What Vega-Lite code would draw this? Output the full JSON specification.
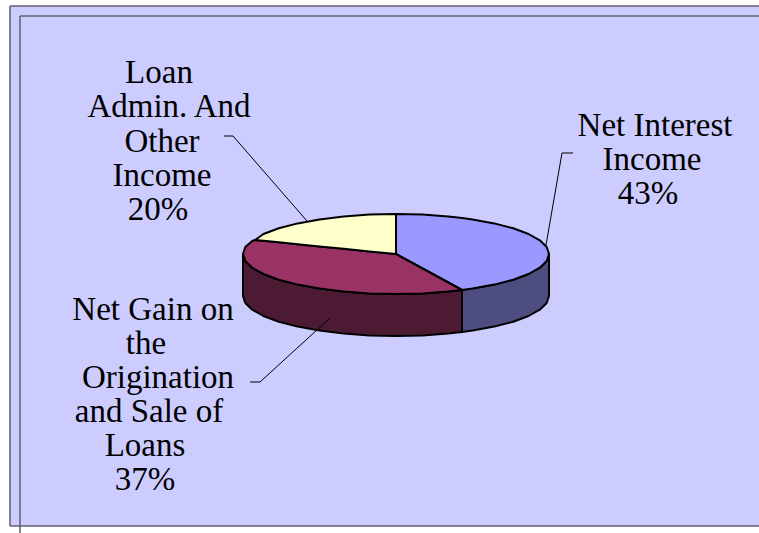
{
  "$schema": "https://vega.github.io/schema/vega-lite/v6.json",
  "width": 759,
  "height": 533,
  "autosize": {"type": "none"},
  "padding": 0,
  "background": "#ffffff",
  "view": {"stroke": null},
  "config": {"style": {"cell": {"stroke": null}}},
  "datasets": {
    "panel": [{"x": 10, "x2": 759, "y": 6, "y2": 526}],
    "frame": [
      {"x": 10, "x2": 759, "y": 6, "y2": 6},
      {"x": 10, "x2": 10, "y": 6, "y2": 526},
      {"x": 10, "x2": 759, "y": 526, "y2": 526},
      {"x": 20, "x2": 759, "y": 16, "y2": 16},
      {"x": 20, "x2": 20, "y": 16, "y2": 533}
    ],
    "walls": [
      {"part": "Net Interest Income wall", "x": 462, "y": 290, "y2": 332},
      {"part": "Net Interest Income wall", "x": 472.5, "y": 288.6, "y2": 330.6},
      {"part": "Net Interest Income wall", "x": 494.3, "y": 284.6, "y2": 326.6},
      {"part": "Net Interest Income wall", "x": 513.2, "y": 279.7, "y2": 321.7},
      {"part": "Net Interest Income wall", "x": 528.5, "y": 274, "y2": 316},
      {"part": "Net Interest Income wall", "x": 539.8, "y": 267.7, "y2": 309.7},
      {"part": "Net Interest Income wall", "x": 546.7, "y": 261, "y2": 303},
      {"part": "Net Interest Income wall", "x": 549, "y": 254, "y2": 296},
      {"part": "Net Gain wall", "x": 243, "y": 254, "y2": 296},
      {"part": "Net Gain wall", "x": 245.3, "y": 261, "y2": 303},
      {"part": "Net Gain wall", "x": 252.2, "y": 267.7, "y2": 309.7},
      {"part": "Net Gain wall", "x": 263.5, "y": 274, "y2": 316},
      {"part": "Net Gain wall", "x": 278.8, "y": 279.7, "y2": 321.7},
      {"part": "Net Gain wall", "x": 297.7, "y": 284.6, "y2": 326.6},
      {"part": "Net Gain wall", "x": 319.5, "y": 288.6, "y2": 330.6},
      {"part": "Net Gain wall", "x": 343.7, "y": 291.6, "y2": 333.6},
      {"part": "Net Gain wall", "x": 369.4, "y": 293.4, "y2": 335.4},
      {"part": "Net Gain wall", "x": 396, "y": 294, "y2": 336},
      {"part": "Net Gain wall", "x": 422.6, "y": 293.4, "y2": 335.4},
      {"part": "Net Gain wall", "x": 448.3, "y": 291.6, "y2": 333.6},
      {"part": "Net Gain wall", "x": 462, "y": 290, "y2": 332}
    ],
    "tops": [
      {"part": "Net Interest Income top", "x": 396, "y": 214, "y2": 254},
      {"part": "Net Interest Income top", "x": 422.6, "y": 214.6, "y2": 268.5},
      {"part": "Net Interest Income top", "x": 448.3, "y": 216.4, "y2": 282.5},
      {"part": "Net Interest Income top", "x": 462, "y": 218, "y2": 290},
      {"part": "Net Interest Income top", "x": 472.5, "y": 219.4, "y2": 288.6},
      {"part": "Net Interest Income top", "x": 494.3, "y": 223.4, "y2": 284.6},
      {"part": "Net Interest Income top", "x": 513.2, "y": 228.3, "y2": 279.7},
      {"part": "Net Interest Income top", "x": 528.5, "y": 234, "y2": 274},
      {"part": "Net Interest Income top", "x": 539.8, "y": 240.3, "y2": 267.7},
      {"part": "Net Interest Income top", "x": 546.7, "y": 247, "y2": 261},
      {"part": "Net Interest Income top", "x": 549, "y": 254, "y2": 254},
      {"part": "Net Gain top", "x": 243, "y": 254, "y2": 254},
      {"part": "Net Gain top", "x": 245.3, "y": 247, "y2": 261},
      {"part": "Net Gain top", "x": 252.2, "y": 241, "y2": 267.7},
      {"part": "Net Gain top", "x": 255, "y": 240, "y2": 269.5},
      {"part": "Net Gain top", "x": 263.5, "y": 240.8, "y2": 274},
      {"part": "Net Gain top", "x": 278.8, "y": 242.3, "y2": 279.7},
      {"part": "Net Gain top", "x": 297.7, "y": 244.2, "y2": 284.6},
      {"part": "Net Gain top", "x": 319.5, "y": 246.4, "y2": 288.6},
      {"part": "Net Gain top", "x": 343.7, "y": 248.8, "y2": 291.6},
      {"part": "Net Gain top", "x": 369.4, "y": 251.4, "y2": 293.4},
      {"part": "Net Gain top", "x": 396, "y": 254, "y2": 294},
      {"part": "Net Gain top", "x": 422.6, "y": 268.5, "y2": 293.4},
      {"part": "Net Gain top", "x": 448.3, "y": 282.5, "y2": 291.6},
      {"part": "Net Gain top", "x": 462, "y": 290, "y2": 290},
      {"part": "Loan Admin top", "x": 255, "y": 240, "y2": 240},
      {"part": "Loan Admin top", "x": 263.5, "y": 234, "y2": 240.8},
      {"part": "Loan Admin top", "x": 278.8, "y": 228.3, "y2": 242.3},
      {"part": "Loan Admin top", "x": 297.7, "y": 223.4, "y2": 244.2},
      {"part": "Loan Admin top", "x": 319.5, "y": 219.4, "y2": 246.4},
      {"part": "Loan Admin top", "x": 343.7, "y": 216.4, "y2": 248.8},
      {"part": "Loan Admin top", "x": 369.4, "y": 214.6, "y2": 251.4},
      {"part": "Loan Admin top", "x": 396, "y": 214, "y2": 254}
    ],
    "leaders": [
      {"label": "Loan Admin", "x": 224, "y": 136},
      {"label": "Loan Admin", "x": 233, "y": 136},
      {"label": "Loan Admin", "x": 307, "y": 221},
      {"label": "Net Interest Income", "x": 546, "y": 245},
      {"label": "Net Interest Income", "x": 562, "y": 153},
      {"label": "Net Interest Income", "x": 573, "y": 153},
      {"label": "Net Gain", "x": 250, "y": 382},
      {"label": "Net Gain", "x": 260, "y": 382},
      {"label": "Net Gain", "x": 330, "y": 318}
    ],
    "labels": [
      {"line": "Loan", "x": 159, "y": 83},
      {"line": "Admin. And", "x": 169, "y": 117},
      {"line": "Other", "x": 162, "y": 152},
      {"line": "Income", "x": 162, "y": 186},
      {"line": "20%", "x": 158, "y": 220},
      {"line": "Net Interest", "x": 655, "y": 136},
      {"line": "Income", "x": 652, "y": 170},
      {"line": "43%", "x": 648, "y": 204},
      {"line": "Net Gain on", "x": 153, "y": 320},
      {"line": "the", "x": 146, "y": 354},
      {"line": "Origination", "x": 158, "y": 388},
      {"line": "and Sale of", "x": 149, "y": 422},
      {"line": "Loans", "x": 145, "y": 456},
      {"line": "37%", "x": 145, "y": 490}
    ]
  },
  "encoding": {
    "x": {"field": "x", "type": "quantitative", "axis": null, "scale": {"domain": [0, 759], "nice": false, "zero": false}},
    "y": {"field": "y", "type": "quantitative", "axis": null, "stack": null, "scale": {"domain": [533, 0], "nice": false, "zero": false}}
  },
  "layer": [
    {
      "data": {"name": "panel"},
      "mark": {"type": "rect", "fill": "#ccccff"},
      "encoding": {"x2": {"field": "x2"}, "y2": {"field": "y2"}}
    },
    {
      "data": {"name": "frame"},
      "mark": {"type": "rule", "color": "#5f5f6f", "strokeWidth": 1.5},
      "encoding": {"x2": {"field": "x2"}, "y2": {"field": "y2"}}
    },
    {
      "data": {"name": "walls"},
      "mark": {"type": "area", "orient": "vertical", "stroke": "#000000", "strokeWidth": 2, "strokeJoin": "round", "interpolate": "linear"},
      "encoding": {
        "y2": {"field": "y2"},
        "color": {"field": "part", "type": "nominal", "legend": null, "scale": {"domain": ["Net Interest Income wall", "Net Gain wall", "Net Interest Income top", "Net Gain top", "Loan Admin top"], "range": ["#4d4d80", "#4d1a33", "#9999ff", "#993366", "#ffffcc"]}}
      }
    },
    {
      "data": {"name": "tops"},
      "mark": {"type": "area", "orient": "vertical", "stroke": "#000000", "strokeWidth": 2, "strokeJoin": "round", "interpolate": "linear"},
      "encoding": {
        "y2": {"field": "y2"},
        "color": {"field": "part", "type": "nominal", "legend": null}
      }
    },
    {
      "data": {"name": "leaders"},
      "mark": {"type": "line", "color": "#000000", "strokeWidth": 1},
      "encoding": {"detail": {"field": "label"}}
    },
    {
      "data": {"name": "labels"},
      "mark": {"type": "text", "align": "center", "baseline": "alphabetic", "font": "Liberation Serif", "fontSize": 33, "color": "#000000"},
      "encoding": {"text": {"field": "line"}}
    }
  ]
}
